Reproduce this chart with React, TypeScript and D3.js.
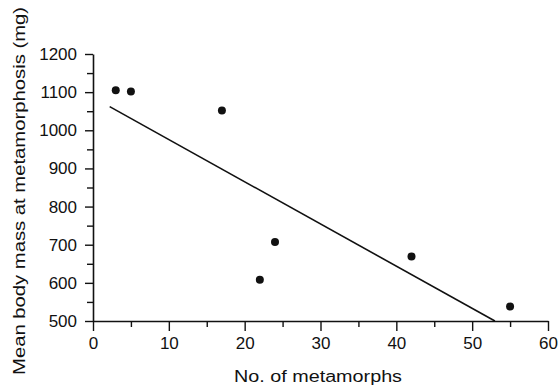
import React, { useEffect, useRef } from "react";
import * as d3 from "d3";

// No. of metamorphs vs mean body mass at metamorphosis (mg)
const metamorphs = [3, 5, 17, 22, 24, 42, 55];
const bodyMass = [1105, 1102, 1052, 608, 707, 669, 538];

// fitted regression line end points
const fitX = [2.2, 53];
const fitY = [1062, 500];

const xTicks = [0, 10, 20, 30, 40, 50, 60];
const xMinor = [5, 15, 25, 35, 45, 55];
const yTicks = [500, 600, 700, 800, 900, 1000, 1100, 1200];
const yMinor = [550, 650, 750, 850, 950, 1050, 1150];

const App = () => {
  const ref = useRef<SVGSVGElement>(null);

  useEffect(() => {
    draw();
  });

  const draw = () => {
    const svg = d3.select(ref.current);
    svg.selectAll("*").remove();

    const width = 559;
    const height = 389;
    const font = "'Liberation Sans', Arial, sans-serif";

    svg.attr("width", width).attr("height", height);

    const x = d3.scaleLinear().domain([0, 60]).range([93, 548]);
    const y = d3.scaleLinear().domain([500, 1200]).range([321, 54]);

    // x axis
    const gx = svg.append("g").attr("transform", `translate(0, ${y(500)})`);
    gx.call(
      d3
        .axisBottom(x)
        .tickValues(xTicks)
        .tickSize(10)
        .tickSizeOuter(0)
        .tickPadding(6)
        .tickFormat(d3.format("d"))
    );
    const gxm = gx.append("g");
    gxm.call(
      d3.axisBottom(x).tickValues(xMinor).tickSize(6).tickSizeOuter(0).tickFormat(() => "")
    );
    gxm.select(".domain").remove();

    // y axis
    const gy = svg.append("g").attr("transform", `translate(${x(0)}, 0)`);
    gy.call(
      d3
        .axisLeft(y)
        .tickValues(yTicks)
        .tickSize(8)
        .tickSizeOuter(0)
        .tickPadding(8)
        .tickFormat(d3.format("d"))
    );
    const gym = gy.append("g");
    gym.call(
      d3.axisLeft(y).tickValues(yMinor).tickSize(6).tickSizeOuter(0).tickFormat(() => "")
    );
    gym.select(".domain").remove();

    svg.selectAll(".domain").attr("stroke", "#111").attr("stroke-width", 1.6);
    svg.selectAll(".tick line").attr("stroke", "#111").attr("stroke-width", 1.4);
    svg
      .selectAll(".tick text")
      .attr("fill", "#111")
      .style("font-family", font)
      .style("font-size", "17px");

    // regression line
    const line = d3
      .line<number>()
      .x((d) => x(d))
      .y((d, i) => y(fitY[i]));
    svg
      .append("path")
      .attr("d", line(fitX))
      .attr("fill", "none")
      .attr("stroke", "#111")
      .attr("stroke-width", 1.6);

    // points
    svg
      .append("g")
      .selectAll("circle")
      .data(metamorphs)
      .join("circle")
      .attr("cx", (d) => x(d))
      .attr("cy", (d, i) => y(bodyMass[i]))
      .attr("r", 4)
      .attr("fill", "#111");

    // axis titles
    svg
      .append("text")
      .attr("x", 318)
      .attr("y", 382)
      .attr("text-anchor", "middle")
      .attr("textLength", 168)
      .attr("lengthAdjust", "spacingAndGlyphs")
      .text("No. of metamorphs")
      .style("font-family", font)
      .style("font-size", "16px")
      .attr("fill", "#111");

    svg
      .append("text")
      .attr("transform", "translate(25, 191) rotate(-90)")
      .attr("text-anchor", "middle")
      .attr("textLength", 368)
      .attr("lengthAdjust", "spacingAndGlyphs")
      .text("Mean body mass at metamorphosis (mg)")
      .style("font-family", font)
      .style("font-size", "16px")
      .attr("fill", "#111");
  };

  return (
    <svg
      ref={ref}
      style={{ position: "absolute", left: 0, top: 0, background: "#fff" }}
    ></svg>
  );
};

export default App;
